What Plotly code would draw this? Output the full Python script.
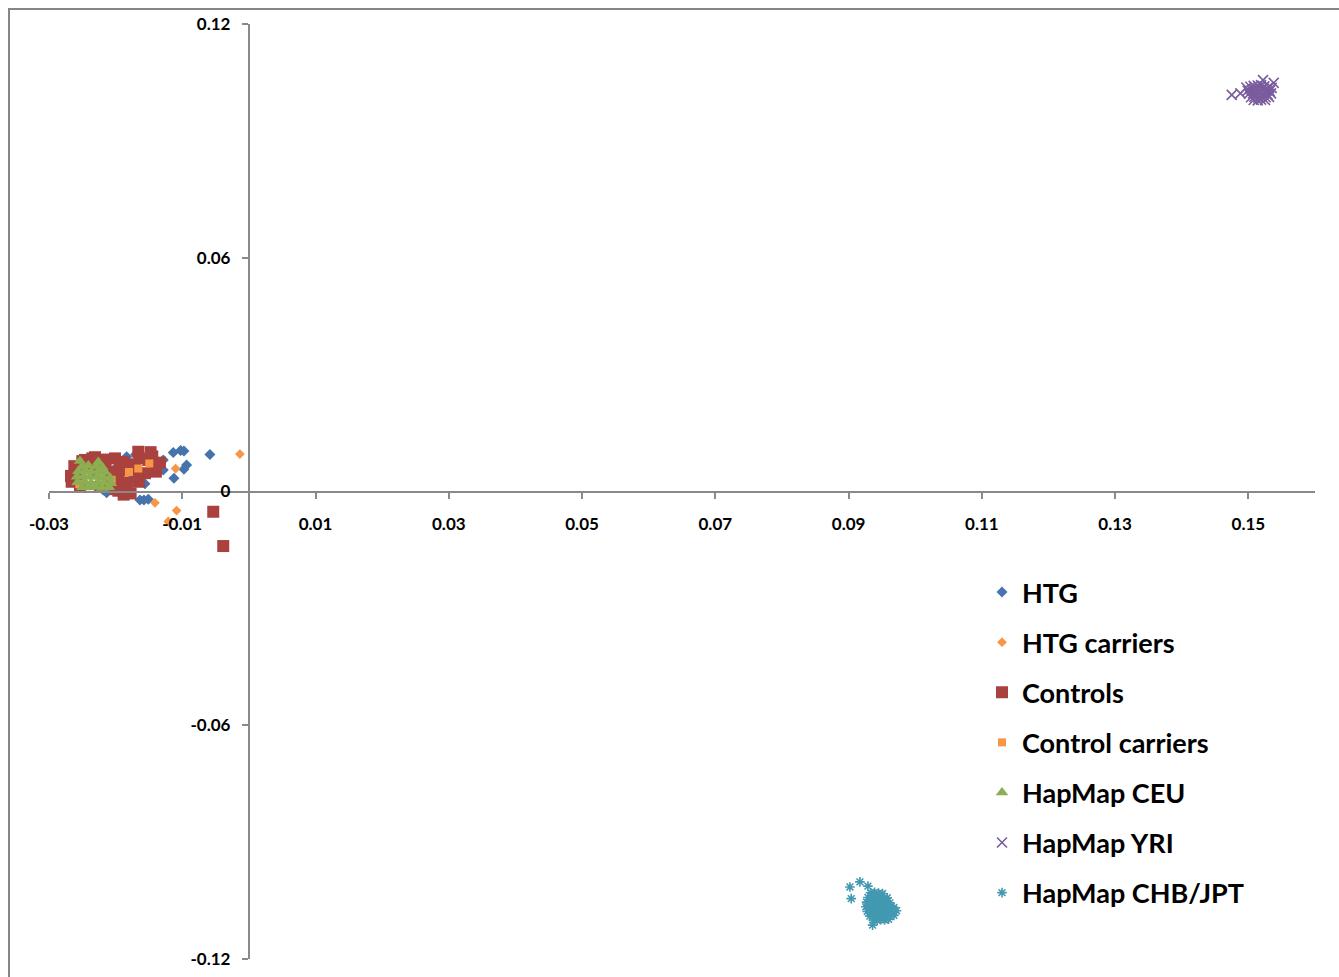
import plotly.graph_objects as go

# ---------------- data ----------------
htg_x = [-0.01135, -0.01025, -0.00975, -0.00585, -0.00935, -0.00975, -0.01125, -0.01285,
         -0.01285, -0.01635, -0.01575, -0.01510, -0.01835, -0.01785, -0.01835, -0.02135,
         -0.02185, -0.02550, -0.02300, -0.01700, -0.02000, -0.01560]
htg_y = [0.0100, 0.0105, 0.0104, 0.0095, 0.0068, 0.0057, 0.0034, 0.0055,
         0.0081, -0.0022, -0.0022, -0.0020, 0.0089, 0.0034, 0.0012, -0.0003,
         0.0004, 0.0030, 0.0045, 0.0095, 0.0060, 0.0020]

htgc_x = [-0.00135, -0.01100, -0.01410, -0.01085, -0.01210, -0.01835]
htgc_y = [0.0096, 0.0059, -0.0029, -0.0049, -0.0077, 0.0046]

ctrl_x = [-0.01660, -0.01475, -0.01335, -0.01395, -0.01560, -0.01685, -0.01885, -0.01935,
          -0.01960, -0.01960, -0.01775, -0.02310, -0.02160, -0.02085, -0.02110, -0.02585,
          -0.02635, -0.02535, -0.02460, -0.01635, -0.01510, -0.01785, -0.00535, -0.00385,
          -0.02235, -0.02010, -0.01830, -0.01450, -0.02380, -0.02500, -0.01710, -0.02050,
          -0.02670, -0.02660, -0.02620, -0.02350, -0.02150, -0.01880, -0.01650, -0.02000]
ctrl_y = [0.0102, 0.0101, 0.0074, 0.0051, 0.0047, 0.0042, 0.0076, 0.0055,
          0.0029, 0.0002, -0.0005, 0.0088, 0.0072, 0.0051, 0.0021, 0.0055,
          0.0029, 0.0012, 0.0081, 0.0085, 0.0081, 0.0064, -0.0052, -0.0140,
          0.0012, 0.0085, 0.0022, 0.0090, 0.0065, 0.0078, 0.0070, 0.0038,
          0.0040, 0.0025, 0.0065, 0.0085, 0.0082, -0.0008, 0.0025, 0.0006]

ctrlc_x = [-0.01660, -0.01495, -0.02545, -0.02060, -0.01800]
ctrlc_y = [0.0059, 0.0072, 0.0019, 0.0030, 0.0050]

ceu_x = [-0.02535, -0.02260,
         -0.02500, -0.02410, -0.02290, -0.02200,
         -0.02560, -0.02455, -0.02365, -0.02255, -0.02160,
         -0.02580, -0.02475, -0.02385, -0.02275, -0.02180, -0.02085,
         -0.02570, -0.02465, -0.02370, -0.02265, -0.02175, -0.02070,
         -0.02500, -0.02395, -0.02300, -0.02205, -0.02100]
ceu_y = [0.0078, 0.0076,
         0.0065, 0.0067, 0.0064, 0.0062,
         0.0052, 0.0054, 0.0051, 0.0053, 0.0050,
         0.0038, 0.0040, 0.0037, 0.0039, 0.0036, 0.0035,
         0.0024, 0.0025, 0.0022, 0.0024, 0.0023, 0.0021,
         0.0011, 0.0010, 0.0012, 0.0009, 0.0011]

yri_x = [0.1475, 0.1488, 0.1522, 0.1538,
         0.1497, 0.1503, 0.1508, 0.1514, 0.1519, 0.1524, 0.1530, 0.1535,
         0.1499, 0.1505, 0.1510, 0.1516, 0.1521, 0.1527, 0.1532,
         0.1501, 0.1507, 0.1512, 0.1518, 0.1523, 0.1529, 0.1534,
         0.1504, 0.1509, 0.1515, 0.1520, 0.1526, 0.1531,
         0.1508, 0.1514, 0.1519, 0.1525]
yri_y = [0.1018, 0.1022, 0.1056, 0.1049,
         0.1037, 0.1039, 0.1041, 0.1042, 0.1043, 0.1040, 0.1038, 0.1036,
         0.1029, 0.1030, 0.1032, 0.1031, 0.1033, 0.1029, 0.1028,
         0.1021, 0.1022, 0.1020, 0.1023, 0.1021, 0.1019, 0.1022,
         0.1012, 0.1013, 0.1011, 0.1014, 0.1012, 0.1013,
         0.1005, 0.1004, 0.1006, 0.1005]

chb_x = [0.0917, 0.0902, 0.0904, 0.0929, 0.0936,
         0.0933, 0.0939, 0.0945, 0.0951,
         0.0929, 0.0935, 0.0941, 0.0947, 0.0953, 0.0958,
         0.0927, 0.0932, 0.0938, 0.0944, 0.0950, 0.0956, 0.0962,
         0.0926, 0.0932, 0.0938, 0.0944, 0.0951, 0.0957, 0.0963, 0.0968,
         0.0928, 0.0934, 0.0940, 0.0946, 0.0952, 0.0958, 0.0964, 0.0972,
         0.0932, 0.0938, 0.0944, 0.0950, 0.0956, 0.0962, 0.0968,
         0.0937, 0.0943, 0.0948, 0.0954, 0.0960]
chb_y = [-0.1002, -0.1015, -0.1045, -0.1013, -0.1113,
         -0.1030, -0.1029, -0.1031, -0.1032,
         -0.1042, -0.1041, -0.1043, -0.1042, -0.1044, -0.1043,
         -0.1054, -0.1053, -0.1055, -0.1054, -0.1053, -0.1055, -0.1056,
         -0.1066, -0.1065, -0.1067, -0.1066, -0.1065, -0.1067, -0.1066, -0.1068,
         -0.1078, -0.1077, -0.1079, -0.1078, -0.1077, -0.1079, -0.1078, -0.1076,
         -0.1090, -0.1089, -0.1091, -0.1090, -0.1089, -0.1091, -0.1088,
         -0.1100, -0.1101, -0.1099, -0.1100, -0.1098]

x_range = [-0.03, 0.16]
y_range = [-0.12, 0.12]
y_ticks = [-0.12, -0.06, 0, 0.06, 0.12]
y_ticklabels = ["-0.12", "-0.06", "0", "0.06", "0.12"]
x_ticks = [-0.03, -0.01, 0.01, 0.03, 0.05, 0.07, 0.09, 0.11, 0.13, 0.15]
x_ticklabels = ["-0.03", "-0.01", "0.01", "0.03", "0.05", "0.07", "0.09", "0.11", "0.13", "0.15"]

# ---------------- figure ----------------
W, H = 1339, 977
L, R, T, B = 49, 24, 24, 18
pw, ph = W - L - R, H - T - B

fig = go.Figure()

def add(name, xs, ys, symbol, color, size, lw=0, lc=None):
    fig.add_trace(go.Scatter(
        x=xs, y=ys, mode="markers", name=name, legendgroup=name,
        marker=dict(symbol=symbol, color=color, size=size,
                    line=dict(width=lw, color=lc if lc else color)),
        cliponaxis=False,
    ))

add("HTG", htg_x, htg_y, "diamond", "#4673AC", 8.5)
add("HTG carriers", htgc_x, htgc_y, "diamond", "#F79646", 7.5)
add("Controls", ctrl_x, ctrl_y, "square", "#A9423F", 12)
add("Control carriers", ctrlc_x, ctrlc_y, "square", "#F79646", 8)
add("HapMap CEU", ceu_x, ceu_y, "triangle-up", "#8DAE51", 11)
add("HapMap YRI", yri_x, yri_y, "x-thin-open", "#7A5C9E", 10, lw=1.6)
add("HapMap CHB/JPT", chb_x, chb_y, "asterisk-open", "#4299B1", 8, lw=1.6)

axis_color = "#898989"
tickfont = dict(family="Lato", size=17, color="#000000", weight="bold")

yaxis_pos = (0 - x_range[0]) / (x_range[1] - x_range[0])
xaxis_pos = (0 - y_range[0]) / (y_range[1] - y_range[0])

def px_to_paper_x(p):
    return (p - L) / pw

def px_to_paper_y(p):
    return (H - B - p) / ph

fig.update_layout(
    width=W, height=H,
    margin=dict(l=L, r=R, t=T, b=B, autoexpand=False),
    paper_bgcolor="white", plot_bgcolor="white",
    xaxis=dict(range=x_range, anchor="free", position=xaxis_pos,
               tickvals=x_ticks, ticktext=x_ticklabels,
               showgrid=False, zeroline=False, showline=True,
               linecolor=axis_color, linewidth=2, automargin=False,
               ticks="outside", ticklen=6, tickwidth=2, tickcolor=axis_color,
               tickfont=tickfont, ticklabelstandoff=11),
    yaxis=dict(range=y_range, anchor="free", position=yaxis_pos,
               tickvals=y_ticks, ticktext=y_ticklabels,
               showgrid=False, zeroline=False, showline=True,
               linecolor=axis_color, linewidth=2, automargin=False,
               ticks="outside", ticklen=6, tickwidth=2, tickcolor=axis_color,
               tickfont=tickfont, ticklabelstandoff=8),
    legend=dict(x=px_to_paper_x(982), y=px_to_paper_y(568), xanchor="left", yanchor="top",
                font=dict(family="Lato", size=27, color="#000000", weight="bold"),
                tracegroupgap=12, itemwidth=30, bgcolor="rgba(0,0,0,0)"),
    showlegend=True,
    shapes=[dict(type="rect", xref="paper", yref="paper",
                 x0=px_to_paper_x(9), x1=px_to_paper_x(1350),
                 y0=px_to_paper_y(995), y1=px_to_paper_y(9),
                 line=dict(color="#868686", width=2), fillcolor="rgba(0,0,0,0)",
                 layer="below")],
)

fig.write_html("out.html", config={"displayModeBar": False},
               post_script="document.body.style.margin='0px';")
